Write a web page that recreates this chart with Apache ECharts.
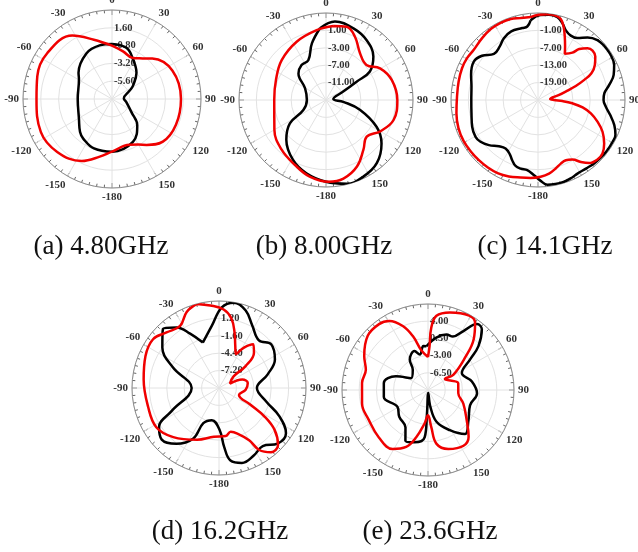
<!DOCTYPE html>
<html>
<head>
<meta charset="utf-8">
<script src="https://cdn.jsdelivr.net/npm/echarts@6/dist/echarts.min.js"></script>
<style>
  html, body { margin: 0; padding: 0; background: #fff; }
  #chart { width: 638px; height: 552px; }
</style>
</head>
<body>
<div id="chart"></div>
<script>
// Angle tick labels, clockwise from the top every 30 degrees
const angleLabels = ['0', '30', '60', '90', '120', '150', '-180', '-150', '-120', '-90', '-60', '-30'];

// Panel captions
const captions = ['(a) 4.80GHz', '(b) 8.00GHz', '(c) 14.1GHz', '(d) 16.2GHz', '(e) 23.6GHz'];

// Radial scale of each panel: gain at the centre and step between rings (dB)
const radialMin = [-8, -15, -25, -10, -10];
const radialStep = [2.4, 4, 6, 2.8, 3.5];

// Ring labels shown along the 0-degree spoke, inner to outer
const ringLabelsA = ['-5.60', '-3.20', '-0.80', '1.60'];
const ringLabelsB = ['-11.00', '-7.00', '-3.00', '1.00'];
const ringLabelsC = ['-19.00', '-13.00', '-7.00', '-1.00'];
const ringLabelsD = ['-7.20', '-4.40', '-1.60', '1.20'];
const ringLabelsE = ['-6.50', '-3.00', '0.50', '4.00'];

// (a) 4.80 GHz : pattern traces as [angle deg, gain dB]
const aRedDeg = [0, 13, 27, 37, 45, 65, 90, 112, 130, 143, 150, 159, 180, 192, 206, 226, 245, 270, 287, 305, 328, 343, 360];
const aRedDb  = [-0.8, -1.4, -1.8, -1.15, -0.3, 1.0, 1.3, 1.3, 0.95, -0.25, -0.9, -1.4, -0.9, -0.05, 1.3, 2.27, 2.58, 2.18, 2.53, 2.7, 2.09, 0.36, -0.8];
const aBlackDeg = [0, 16, 28, 43, 58, 65, 87, 103, 124, 136, 154, 180, 200, 216, 224, 239, 270, 301, 308, 331, 347, 360];
const aBlackDb  = [-0.58, -0.84, -1.95, -3.16, -4.67, -5.4, -6.4, -6.0, -4.84, -3.1, -1.56, -0.89, -0.9, -1.4, -1.8, -2.8, -3.38, -2.8, -2.27, -0.93, -0.58, -0.58];

// (b) 8.00 GHz
const bRedDeg = [5.7, 15.7, 24.6, 36, 49, 59.6, 73, 90, 106.5, 120, 132, 143, 155, 167.5, 178, 192, 205.5, 222, 240, 270, 292, 312, 333.3, 352.4, 365.7];
const bRedDb  = [2.1, 2.5, 1.0, -1.7, -2.7, -0.6, 0.8, 1.4, 1.2, -0.6, -2.4, -0.7, 1.86, 3.5, 3.8, 3.0, 1.55, 0.3, -1.3, -3.1, -2.6, -1.3, 0.0, 1.2, 2.1];
const bBlackDeg = [355.2, 6.5, 21, 34, 47.5, 57, 59, 64, 82, 96, 106, 118, 128, 141, 154, 166, 180, 195, 209, 225, 237, 246, 270, 299, 314, 325, 336, 346, 355.2];
const bBlackDb  = [1.55, 3.16, 2.62, 1.63, -0.23, -2.97, -6.8, -10.6, -13.3, -11, -6.9, -1.8, 1.2, 3.6, 4.6, 4.85, 3.8, 2.45, 0.7, -2.1, -5.1, -9.3, -10.6, -9.5, -6.2, -5.2, -5.0, -1.6, 1.55];

// (c) 14.1 GHz
const cRedDeg = [354.9, 0.7, 6.1, 11.7, 15.7, 19.1, 22.8, 26.8, 30.1, 36, 39, 43.7, 47.8, 52.8, 58.3, 63.4, 66.5, 69.6, 72.3, 76.6, 85.2, 90, 92.4, 95.5, 99.4, 104.2, 110.1, 116.2, 123.3, 129.7, 135, 140.9, 145.3, 150, 155.2, 160.3, 165.5, 171.5, 178, 185.4, 192.6, 200.9, 209, 216.6, 224.5, 232.3, 241.2, 250.5, 260.7, 272.4, 283.1, 292.7, 300.5, 308, 317.9, 326.6, 334.5, 341.4, 348, 354.9];
const cRedDb  = [3.7, 4.4, 4.7, 4.7, 4.0, 1.9, -1.2, -4.3, -6.6, -4.8, -2.4, -0.3, 0.4, -0.2, -1.95, -4.4, -7.6, -11.1, -14.3, -17.5, -20.8, -19.5, -16.6, -13.1, -9.4, -6.2, -3.1, -0.2, 2.3, 3.9, 4.0, 3.0, 1.0, -1.3, -2.1, -1.7, -0.6, 0.7, 1.5, 2.0, 2.4, 3.2, 3.8, 4.0, 4.1, 4.2, 4.3, 4.1, 3.5, 2.95, 3.1, 3.4, 3.4, 3.1, 3.75, 4.4, 4.6, 4.5, 3.9, 3.7];
const cBlackDeg = [354.7, 1.8, 7.3, 13.2, 17.6, 21.8, 27, 32.5, 38.4, 44.7, 50.9, 57.5, 65.3, 71.6, 78, 84.2, 90, 95.6, 101.8, 108.2, 114.3, 119.4, 126.3, 131.9, 138.5, 145.1, 151.8, 157.4, 162.7, 168.4, 173.7, 178.1, 183, 188.7, 194.2, 198.8, 203.2, 207.4, 213.8, 220.3, 227.4, 234, 239.5, 247.9, 258.6, 270, 281.4, 290.6, 300.9, 308.3, 316.3, 324.5, 331.1, 338.7, 347.7, 351.7, 354.7];
const cBlackDb  = [2.6, 4.3, 4.6, 4.3, 2.8, 0.85, -0.1, 0.3, 2.5, 4.1, 4.5, 4.5, 3.9, 2.5, 0.1, -2.0, -2.4, -1.5, 0.45, 2.7, 4.3, 4.5, 4.5, 4.4, 4.2, 3.85, 3.8, 4.3, 4.6, 4.6, 4.4, 2.9, 1.0, -0.5, -0.6, -1.0, -2.4, -3.9, -4.9, -4.1, -2.0, -0.5, 0.0, -0.5, -1.6, -2.0, -1.6, -0.35, 0.8, -0.4, -3.0, -2.3, -0.65, 0.4, 0.4, 0.6, 2.6];

// (d) 16.2 GHz
const dRedDeg = [345.2, 354, 3.4, 10, 15.6, 21, 26.6, 31.7, 38, 44.7, 50.5, 51.5, 68, 70, 80, 93.6, 109, 118, 122, 127, 134, 141, 147, 150, 158, 165, 172, 186, 203, 223, 238, 255.4, 276.4, 293.5, 306.5, 316.6, 328, 337, 345.2];
const dRedDb  = [4.0, 3.35, 2.65, 1.4, -0.7, -2.7, -3.9, -2.35, -1.05, -2.0, -4.45, -7.0, -8.1, -6.0, -5.3, -5.7, -6.6, -4.2, -1.4, 1.2, 3.2, 3.3, 1.9, -0.3, -2.1, -2.7, -2.2, -2.1, -0.95, 0.8, 1.9, 1.8, 2.2, 2.9, 3.2, 2.3, 1.8, 3.3, 4.0];
const dBlackDeg = [340.4, 353.5, 2, 10, 19, 28, 40, 50, 63, 74.5, 90, 106, 115, 124, 133.5, 143, 152.5, 163, 171, 175, 179, 192.5, 204, 207, 217.4, 228, 237, 244, 270, 294, 305.5, 316.5, 325, 332, 340.4];
const dBlackDb  = [-2.24, 0.1, 3.0, 3.95, 3.2, 1.4, 0.0, 0.96, 0.1, -1.9, -3.9, -2.1, 0.7, 3.0, 3.0, 1.7, 2.2, 2.6, 1.8, -0.5, -3.2, -4.7, -3.8, -0.9, 1.3, 2.4, 1.5, -1.5, -5.6, -1.9, 1.2, 3.1, 1.9, -0.1, -2.24];

// (e) 23.6 GHz
const eRedDeg = [0, 350.4, 344.3, 338.5, 330.7, 323.4, 312, 298, 288, 276, 258.4, 243, 226, 211, 201, 194, 186, 180, 175, 171, 161, 147.5, 139, 128, 111, 96, 77.5, 57, 59, 49, 42, 35, 29, 15.8, 6.5, 3, 2, 0];
const eRedDb  = [-3.3, -1.8, 1.4, 4.0, 6.1, 6.7, 6.5, 4.7, 3.3, 3.5, 3.7, 3.5, 3.9, 4.0, 2.4, -0.1, -3.1, -4.85, -2.45, 1.1, 2.7, 3.45, 2.6, 0.0, -2.3, -3.8, -3.7, -5.9, -4.0, -0.05, 3.9, 6.7, 7.3, 6.4, 5.2, 2.7, -1.1, -3.3];
const eBlackDeg = [358, 9, 18.4, 25, 31, 36.6, 41.6, 49, 54, 63.4, 79, 94, 110, 127, 140, 151.5, 165, 172, 175, 182.5, 184, 194.5, 204, 211, 227, 241, 261, 279, 293, 305, 323, 329, 341, 347, 354, 358];
const eBlackDb  = [-1.1, 0.8, 1.9, 2.0, 4.0, 6.7, 6.5, 3.6, 0.6, -2.3, -0.9, 0.0, -0.9, 0.3, 1.7, -0.7, -3.3, -6.6, -9.4, -5.2, -0.4, 1.0, 1.3, -1.1, -2.0, -2.9, -0.9, -0.9, -2.9, -5.8, -4.85, -2.8, -1.6, -2.6, -1.0, -1.1];

const panels = [
  { center: [112, 99],  radius: 89, rings: ringLabelsA, red: [aRedDeg, aRedDb], black: [aBlackDeg, aBlackDb], caption: [96, 228] },
  { center: [326, 100], radius: 87, rings: ringLabelsB, red: [bRedDeg, bRedDb], black: [bBlackDeg, bBlackDb], caption: [319, 228] },
  { center: [538, 100], radius: 87, rings: ringLabelsC, red: [cRedDeg, cRedDb], black: [cBlackDeg, cBlackDb], caption: [540, 228] },
  { center: [219, 388], radius: 87, rings: ringLabelsD, red: [dRedDeg, dRedDb], black: [dBlackDeg, dBlackDb], caption: [215, 513] },
  { center: [428, 390], radius: 86, rings: ringLabelsE, red: [eRedDeg, eRedDb], black: [eBlackDeg, eBlackDb], caption: [425, 513] }
];

const FONT = 'Liberation Serif, Times New Roman, serif';
const GRID = '#e2e2e2';

const polar = [], angleAxis = [], radiusAxis = [], series = [], title = [];

// Pair angles with gains; the radial axis counts dB above the centre value
function trace(degs, dbs, min) {
  return degs.map((a, i) => [dbs[i] - min, ((a % 360) + 360) % 360]);
}

panels.forEach((p, i) => {
  const min = radialMin[i];
  const step = radialStep[i];
  const span = step * 5;

  polar.push({ center: p.center, radius: p.radius });

  angleAxis.push({
    polarIndex: i,
    type: 'value',
    min: 0,
    max: 360,
    interval: 30,
    startAngle: 90,
    clockwise: true,
    axisLine: { lineStyle: { color: '#8c8c8c', width: 1 } },
    axisTick: { show: true, inside: true, length: 5, lineStyle: { color: '#555', width: 1 } },
    minorTick: { show: true, splitNumber: 6, length: 3, lineStyle: { color: '#666', width: 1 } },
    splitLine: { show: true, lineStyle: { color: GRID, width: 1 } },
    axisLabel: {
      margin: 4,
      fontFamily: FONT,
      fontWeight: 'bold',
      fontSize: 11,
      color: '#333',
      formatter: v => {
        const k = Math.round(v / 30);
        return k >= 12 ? '' : angleLabels[k];
      }
    }
  });

  radiusAxis.push({
    polarIndex: i,
    type: 'value',
    min: 0,
    max: span,
    interval: step,
    axisLine: { show: false },
    axisTick: { show: false },
    splitLine: { show: true, lineStyle: { color: GRID, width: 1 } },
    axisLabel: {
      margin: -2,
      align: 'left',
      verticalAlign: 'middle',
      padding: [0, 0, 5, 0],
      fontFamily: FONT,
      fontWeight: 'bold',
      fontSize: 10.5,
      color: '#333',
      formatter: v => {
        const k = Math.round(v / step);
        return (k >= 1 && k <= 4) ? p.rings[k - 1] : '';
      }
    }
  });

  series.push({
    type: 'line',
    coordinateSystem: 'polar',
    polarIndex: i,
    data: trace(p.black[0], p.black[1], min),
    symbol: 'none',
    smooth: 0.4,
    lineStyle: { color: '#000', width: 2.5 },
    z: 3,
    animation: false
  });
  series.push({
    type: 'line',
    coordinateSystem: 'polar',
    polarIndex: i,
    data: trace(p.red[0], p.red[1], min),
    symbol: 'none',
    smooth: 0.4,
    lineStyle: { color: '#f00000', width: 2.5 },
    z: 4,
    animation: false
  });

  title.push({
    text: captions[i],
    left: p.caption[0],
    top: p.caption[1],
    textAlign: 'center',
    textStyle: { fontFamily: FONT, fontWeight: 'normal', fontSize: 27, color: '#111' }
  });
});

const chart = echarts.init(document.getElementById('chart'), null, { renderer: 'canvas' });
chart.setOption({
  backgroundColor: '#fff',
  animation: false,
  title,
  polar,
  angleAxis,
  radiusAxis,
  series
});
</script>
</body>
</html>
